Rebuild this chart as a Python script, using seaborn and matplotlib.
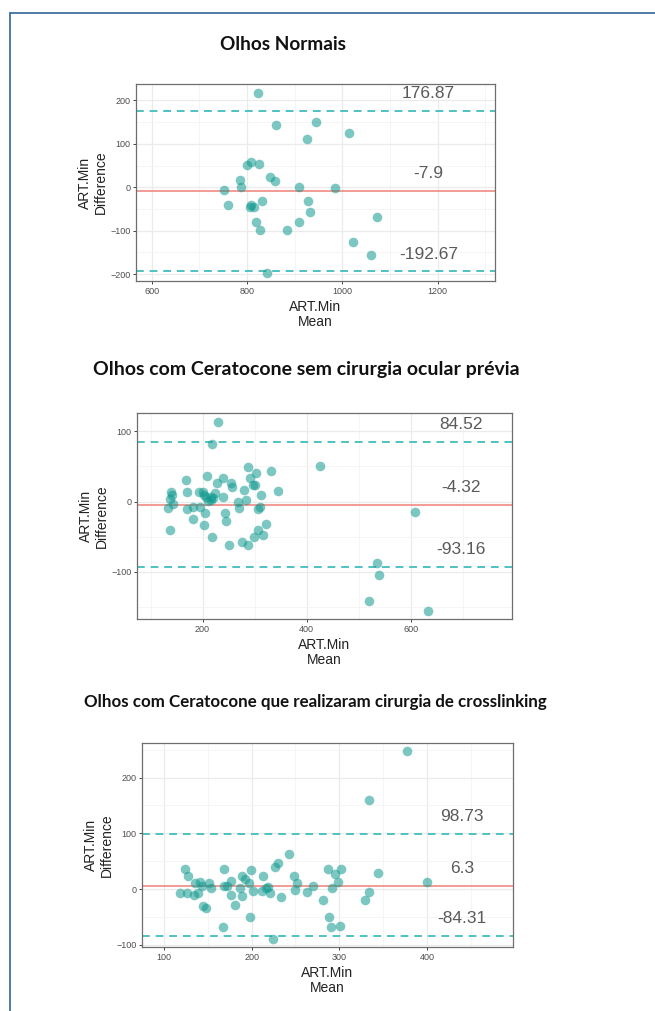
import numpy as np
import pandas as pd
import matplotlib
matplotlib.use("Agg")
import matplotlib.pyplot as plt
from matplotlib.lines import Line2D
from matplotlib.ticker import MultipleLocator
import seaborn as sns

# ------------------ DATA ------------------
titles = [
    "Olhos Normais",
    "Olhos com Ceratocone sem cirurgia ocular prévia",
    "Olhos com Ceratocone que realizaram cirurgia de crosslinking",
]

mean_normal = [822, 860, 925, 945, 1014, 800, 809, 824, 785, 788, 752, 761, 848, 858, 909,
               985, 808, 806, 814, 832, 928, 933, 818, 827, 884, 908, 1022, 842, 1072, 1060]
diff_normal = [218, 144, 111, 150, 125, 52, 59, 54, 17, 0, -6, -41, 23, 15, 0,
               -2, -41, -45, -45, -31, -31, -58, -81, -98, -98, -81, -127, -197, -68, -156]

mean_kc = [230, 218, 425, 332, 288, 302, 292, 297, 239, 228, 208, 168, 255, 256, 345, 279,
           312, 300, 170, 139, 141, 137, 144, 134, 170, 181, 193, 200, 202, 207, 216, 221,
           217, 211, 224, 240, 205, 196, 243, 245, 181, 203, 137, 219, 250, 276, 287, 299,
           317, 307, 322, 307, 310, 269, 270, 284, 609, 536, 540, 520, 633]
diff_kc = [113, 82, 51, 44, 49, 40, 34, 23, 33, 27, 37, 31, 27, 21, 15, 16,
           10, 23, 13, 13, 9, 4, -4, -9, -10, -7, 14, 14, 9, 6, 6, 5,
           2, 1, 12, 7, -16, -8, -16, -28, -25, -33, -41, -51, -62, -58, -62, -51,
           -48, -40, -32, -10, -7, -1, -9, 2, -15, -88, -104, -142, -155]

mean_cxl = [118, 124, 128, 126, 134, 135, 141, 139, 143, 145, 148, 151, 154, 168, 168, 167,
            172, 177, 176, 181, 187, 189, 193, 189, 197, 199, 198, 202, 213, 212, 216, 219,
            221, 224, 227, 230, 233, 243, 248, 252, 250, 263, 270, 281, 287, 288, 292, 291,
            295, 298, 302, 301, 344, 334, 329, 400, 334, 377]
diff_cxl = [-7, 36, 24, -7, -10, 11, 13, -8, 5, -30, -34, 10, 1, 36, 5, -68,
            6, 15, -10, -28, 1, 23, 18, -13, 10, 35, -51, -3, 24, -3, 1, 4,
            -7, -89, 39, 47, -15, 63, 24, 10, -1, -6, 5, -20, 36, -50, 1, -68,
            27, 13, 36, -67, 29, -6, -19, 13, 160, 247]

bias = [-7.9, -4.32, 6.3]
upper_loa = [176.87, 84.52, 98.73]
lower_loa = [-192.67, -93.16, -84.31]

xlims = [(567, 1320), (74, 795), (75, 498)]
ylims = [(-216, 238), (-167, 126), (-104, 262)]
x_major = [200, 200, 100]
y_major = [100, 100, 100]
label_x = [1180, 697, 440]

# ------------------ FIGURE ------------------
W, H = 655, 1011
sns.set_theme(style="whitegrid")
plt.rcParams['font.family'] = ['Liberation Sans', 'DejaVu Sans']

fig = plt.figure(figsize=(W / 100, H / 100), dpi=100)
fig.patch.set_facecolor("white")

# pixel boxes: left, right, top, bottom
boxes = [(136, 495, 84, 281), (137, 512, 413, 619), (142, 513, 743, 947)]
title_pos = [(283, 45), (306, 370), (315, 702)]
title_size = [13.7, 14.0, 12.2]

datasets = [(mean_normal, diff_normal), (mean_kc, diff_kc), (mean_cxl, diff_cxl)]

point_col = "#11998f"
loa_col = "#4fc2c0"
bias_col = "#f08a80"
txt_col = "#5a5a5a"

for i, (m, d) in enumerate(datasets):
    l, r, t, b = boxes[i]
    ax = fig.add_axes([l / W, 1 - b / H, (r - l) / W, (b - t) / H])
    df = pd.DataFrame({"Mean": m, "Difference": d})

    ax.set_xlim(*xlims[i])
    ax.set_ylim(*ylims[i])
    ax.xaxis.set_major_locator(MultipleLocator(x_major[i]))
    ax.xaxis.set_minor_locator(MultipleLocator(x_major[i] / 2))
    ax.yaxis.set_major_locator(MultipleLocator(y_major[i]))
    ax.yaxis.set_minor_locator(MultipleLocator(y_major[i] / 2))
    ax.grid(which="major", color="#ebebeb", lw=0.9)
    ax.grid(which="minor", color="#f4f4f4", lw=0.6)
    ax.set_axisbelow(True)

    ax.axhline(upper_loa[i], color=loa_col, ls=(0, (4, 3)), lw=1.4, zorder=1)
    ax.axhline(lower_loa[i], color=loa_col, ls=(0, (4, 3)), lw=1.4, zorder=1)
    ax.axhline(bias[i], color=bias_col, lw=1.2, zorder=1)

    sns.scatterplot(data=df, x="Mean", y="Difference", ax=ax, color=point_col,
                    alpha=0.55, s=48, linewidth=0, zorder=3)

    off = 0.085 * (ylims[i][1] - ylims[i][0])
    for val in (upper_loa[i], bias[i], lower_loa[i]):
        ax.text(label_x[i], val + off, f"{val:g}", ha="center", va="center",
                fontsize=12.5, color=txt_col)

    ax.set_xlabel("ART.Min\nMean", fontsize=10, color="#222222", labelpad=3,
                  linespacing=1.1)
    ax.set_ylabel("ART.Min\nDifference", fontsize=10, color="#222222", labelpad=2,
                  linespacing=1.1)
    ax.tick_params(which="major", length=2.5, width=0.7, color="#444444",
                   labelsize=6.5, labelcolor="#4d4d4d", pad=1.5,
                   bottom=True, left=True)
    ax.tick_params(which="minor", length=0)
    for sp in ax.spines.values():
        sp.set_color("#6e6e6e")
        sp.set_linewidth(0.9)

    tx, ty = title_pos[i]
    fig.text(tx / W, 1 - ty / H, titles[i], ha="center", va="center",
             fontsize=title_size[i], fontweight="bold", family=["Lato", "DejaVu Sans"],
             color="#111111")

# blue frame lines (left and top)
frame_col = "#3f72a0"
fig.add_artist(Line2D([10 / W, 10 / W], [0, 1 - 13 / H], color=frame_col, lw=1.3))
fig.add_artist(Line2D([10 / W, 1], [1 - 13 / H, 1 - 13 / H], color=frame_col, lw=1.3))

fig.savefig("out.png", dpi=100)
